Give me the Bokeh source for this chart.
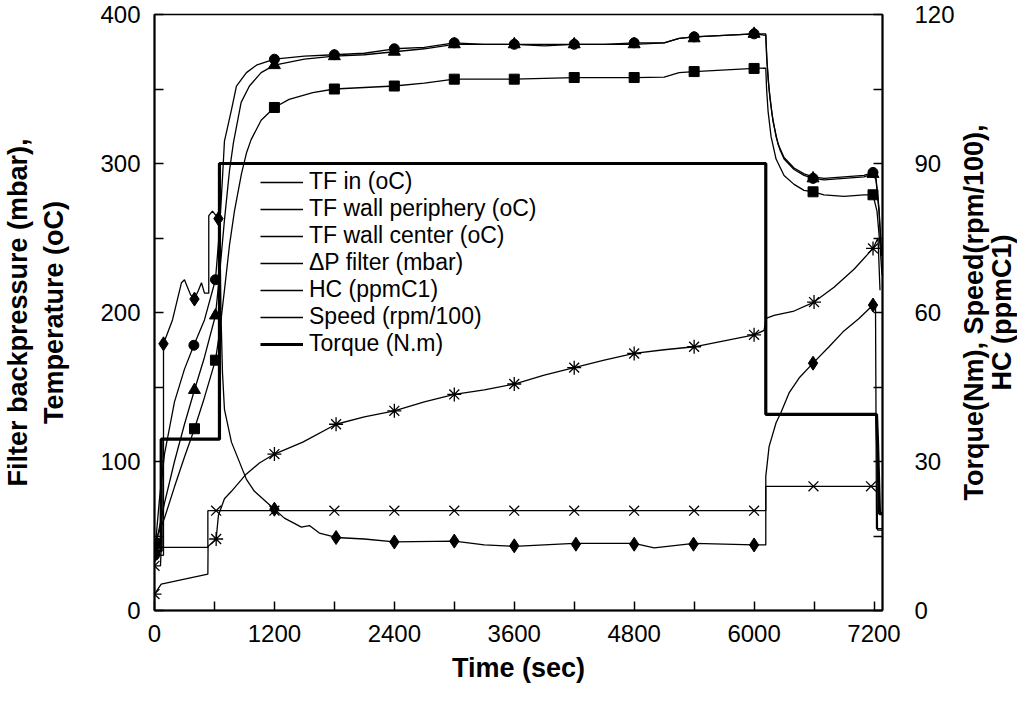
import math
from bokeh.plotting import figure
from bokeh.layouts import row
from bokeh.models import Range1d, LinearAxis, Legend, LegendItem, FixedTicker
from bokeh.core.properties import value
from bokeh.embed import file_html
from bokeh.resources import INLINE

FONT = "Liberation Sans"

# ---------------- data (time in s) ----------------
# TF in (oC)  - circle markers
t_tfin = [0, 50, 100, 200, 300, 394, 500, 610, 650, 680, 700, 770, 820, 920, 1020, 1200, 1500, 1800,
          2100, 2400, 2700, 3000, 3300, 3600, 3900, 4200, 4500, 4800, 5100, 5250, 5400, 5700, 6000,
          6117, 6125, 6140, 6160, 6190, 6240, 6300, 6400, 6500, 6590, 6700, 6900, 7100, 7190, 7220, 7250, 7275]
v_tfin = [37, 75, 105, 140, 162, 178, 195, 222, 255, 290, 315, 336, 352, 361, 366, 370, 372, 373,
          374, 377, 378, 381, 380, 380, 379, 380, 380, 381, 381, 384, 385, 386, 387,
          387, 372, 357, 343, 328, 313, 304, 297, 293, 291, 290, 291, 292, 294, 290, 270, 240]
mt_tfin = [0, 394, 610, 1200, 1800, 2400, 3000, 3600, 4200, 4800, 5400, 6000, 6590, 7190]
mv_tfin = [37, 178, 222, 370, 373, 377, 381, 380, 380, 381, 385, 387, 290, 294]

# TF wall periphery (oC) - triangle markers
t_tfp = [0, 100, 200, 300, 400, 500, 610, 650, 700, 750, 790, 867, 950, 1067, 1200, 1500, 1800, 2100,
         2400, 2700, 3000, 3600, 4200, 4800, 5100, 5250, 5400, 6000, 6117, 6130, 6150, 6180, 6220, 6260,
         6300, 6400, 6500, 6590, 6700, 6900, 7100, 7190, 7220, 7250, 7275]
v_tfp = [40, 72, 100, 125, 148, 170, 198, 225, 262, 295, 314, 341, 352, 361, 366, 370, 372, 373,
         375, 377, 380, 380, 380, 380, 381, 384, 385, 387, 386, 368, 350, 333, 318, 309,
         303, 296, 292, 290, 289, 290, 291, 293, 289, 268, 238]
mt_tfp = [0, 400, 610, 1200, 1800, 2400, 3000, 3600, 4200, 4800, 5400, 6000, 6590, 7190]
mv_tfp = [40, 148, 198, 366, 372, 375, 380, 380, 380, 380, 384, 387, 290, 293]

# TF wall center (oC) - square markers
t_tfc = [0, 100, 200, 300, 400, 500, 610, 650, 700, 750, 800, 870, 920, 967, 1067, 1200, 1347, 1584,
         1800, 2100, 2400, 2700, 3000, 3600, 4200, 4800, 5100, 5250, 5400, 6000, 6117, 6125, 6140, 6170,
         6220, 6300, 6400, 6500, 6590, 6700, 6900, 7100, 7190, 7230, 7260, 7280]
v_tfc = [45, 62, 83, 103, 122, 143, 168, 186, 215, 245, 268, 293, 307, 316, 329, 337.6, 343, 347.6,
         350, 351, 352, 354, 356.6, 356.6, 357.7, 357.7, 358, 361, 361.7, 363.8, 364, 350, 335, 318,
         303, 292, 286, 282, 281, 279, 278, 279, 279, 268, 245, 225]
mt_tfc = [0, 400, 610, 1200, 1800, 2400, 3000, 3600, 4200, 4800, 5400, 6000, 6590, 7190]
mv_tfc = [45, 122, 168, 337.6, 350, 352, 356.6, 356.6, 357.7, 357.7, 361.7, 363.8, 281, 279]

# Delta P filter (mbar) - asterisk markers
t_dp = [0, 67, 534, 536, 617, 640, 700, 770, 917, 1050, 1200, 1484, 1817, 2100, 2400, 2700, 3000, 3300,
        3600, 3900, 4200, 4500, 4800, 5100, 5400, 5700, 6000, 6100, 6120, 6200, 6400, 6600, 6800, 7000,
        7190, 7240, 7260]
v_dp = [11, 17.7, 24.4, 43, 48, 64, 75, 80, 91.5, 99, 105, 113, 125, 130, 134, 140, 145, 148,
        152, 158, 163, 168, 172.5, 175, 177, 181, 185, 188, 196, 198, 201, 207, 217, 229,
        243, 250, 215]
mt_dp = [0, 617, 1200, 1817, 2400, 3000, 3600, 4200, 4800, 5400, 6000, 6600, 7190]
mv_dp = [11, 48, 105, 125, 134, 145, 152, 163, 172.5, 177, 185, 207, 243]

# HC (ppmC1) - diamond markers, right axis
t_hc = [0, 90, 90, 180, 270, 300, 330, 360, 400, 440, 470, 500, 543, 543, 580, 640, 655, 665, 680, 700,
        770, 920, 1000, 1200, 1300, 1470, 1550, 1650, 1817, 2100, 2400, 3000, 3300, 3600, 4200, 4800,
        5000, 5400, 6000, 6117, 6117, 6150, 6220, 6270, 6350, 6450, 6590, 6750, 6890, 7050, 7190, 7215,
        7225, 7280]
v_hc = [11.1, 11.1, 53.7, 58.5, 66.0, 66.6, 65.1, 63.6, 62.7, 64.5, 66.0, 63.9, 63.9, 79.5, 80.4, 78.9,
        75.0, 60.0, 48.0, 40.5, 33.9, 26.4, 24.0, 20.4, 18.6, 16.8, 17.1, 15.6, 14.7, 14.4, 13.8, 13.95,
        13.2, 12.9, 13.5, 13.5, 12.6, 13.5, 13.2, 13.2, 27.0, 33.0, 37.8, 39.9, 43.8, 46.8, 49.8, 53.1,
        56.1, 58.8, 61.5, 61.8, 16.5, 16.5]
mt_hc = [0, 90, 400, 640, 1200, 1817, 2400, 3000, 3600, 4217, 4800, 5394, 6000, 6590, 7190]
mv_hc = [11.1, 53.7, 62.7, 78.9, 20.4, 14.7, 13.8, 13.98, 13.02, 13.35, 13.35, 13.35, 13.2, 49.8, 61.5]

# Speed (rpm/100) - x markers, right axis
t_sp = [0, 60, 67, 534, 534, 6117, 6117, 7230, 7235, 7280]
v_sp = [9, 9, 12.7, 12.7, 20.1, 20.1, 25, 25, 16.2, 16.2]
mt_sp = [0, 617, 1200, 1800, 2400, 3000, 3600, 4200, 4800, 5400, 6000, 6594, 7170]
mv_sp = [9, 20.1, 20.1, 20.1, 20.1, 20.1, 20.1, 20.1, 20.1, 20.1, 20.1, 25, 25]

# Torque (N.m) - thick line, right axis
t_tq = [0, 67, 67, 650, 650, 6117, 6117, 7225, 7235, 7255, 7280]
v_tq = [12, 12, 34.5, 34.5, 90, 90, 39.5, 39.5, 34, 19.5, 19.5]

x_ticks = [0, 1200, 2400, 3600, 4800, 6000, 7200]
x_minor = [600, 1800, 3000, 4200, 5400, 6600]
yl_ticks = [0, 100, 200, 300, 400]
yl_minor = [50, 150, 250, 350]
yr_ticks = [0, 30, 60, 90, 120]
yr_minor = [15, 45, 75, 105]

labels = ["TF in (oC)", "TF wall periphery (oC)", "TF wall center (oC)", "\u0394P filter (mbar)",
          "HC (ppmC1)", "Speed (rpm/100)", "Torque (N.m)"]
right_title = ["Torque(Nm), Speed(rpm/100),", "HC (ppmC1)"]

H = 704
# ---------------- main figure ----------------
p = figure(frame_width=728, frame_height=596,
           min_border_left=151, min_border_right=75, min_border_top=14, min_border_bottom=94,
           x_range=Range1d(0, 7285), y_range=Range1d(0, 400),
           output_backend="svg", toolbar_location=None)
p.extra_y_ranges = {"right": Range1d(0, 120)}
p.add_layout(LinearAxis(y_range_name="right"), "right")
p.grid.visible = False
p.outline_line_color = "black"
p.outline_line_width = 1.5
p.outline_line_alpha = 1.0
p.background_fill_color = "white"
p.border_fill_color = "white"

p.xaxis.ticker = FixedTicker(ticks=x_ticks, minor_ticks=x_minor)
p.yaxis[0].ticker = FixedTicker(ticks=yl_ticks, minor_ticks=yl_minor)
p.yaxis[1].ticker = FixedTicker(ticks=yr_ticks, minor_ticks=yr_minor)

for ax in [p.xaxis[0], p.yaxis[0], p.yaxis[1]]:
    ax.axis_line_color = "black"
    ax.axis_line_width = 2
    ax.major_tick_in = 9
    ax.major_tick_out = 0
    ax.minor_tick_in = 9
    ax.minor_tick_out = 0
    ax.major_tick_line_width = 1.5
    ax.minor_tick_line_width = 1.5
    ax.major_tick_line_color = "black"
    ax.minor_tick_line_color = "black"
    ax.major_label_text_font = FONT
    ax.major_label_text_font_size = "24px"
    ax.major_label_text_color = "black"
    ax.axis_label_text_font = FONT
    ax.axis_label_text_font_size = "27px"
    ax.axis_label_text_font_style = "bold"
    ax.axis_label_text_color = "black"

p.xaxis.axis_label = "Time (sec)"
p.xaxis.major_label_standoff = 14
p.xaxis.axis_label_standoff = 8
p.yaxis[0].axis_label = "Filter backpressure (mbar),\nTemperature (oC)"
p.yaxis[0].major_label_standoff = 14
p.yaxis[0].axis_label_standoff = 28
p.yaxis[1].major_label_standoff = 32

LW = 1.3
r_tfin = p.line(t_tfin, v_tfin, line_color="black", line_width=LW)
p.scatter(mt_tfin, mv_tfin, marker="circle", size=10, color="black")
r_tfp = p.line(t_tfp, v_tfp, line_color="black", line_width=LW)
p.scatter(mt_tfp, mv_tfp, marker="triangle", size=12, color="black")
r_tfc = p.line(t_tfc, v_tfc, line_color="black", line_width=LW)
p.scatter(mt_tfc, mv_tfc, marker="square", size=10, color="black")
r_dp = p.line(t_dp, v_dp, line_color="black", line_width=LW)
p.scatter(mt_dp, mv_dp, marker="asterisk", size=14, line_color="black", line_width=1.3)
r_hc = p.line(t_hc, v_hc, line_color="black", line_width=LW, y_range_name="right")
p.scatter(mt_hc, mv_hc, marker="diamond", size=14, color="black", y_range_name="right")
r_sp = p.line(t_sp, v_sp, line_color="black", line_width=LW, y_range_name="right")
p.scatter(mt_sp, mv_sp, marker="x", size=14, line_color="black", line_width=1.3, y_range_name="right")
r_tq = p.line(t_tq, v_tq, line_color="black", line_width=3.2, y_range_name="right")

rends = [r_tfin, r_tfp, r_tfc, r_dp, r_hc, r_sp, r_tq]
legend = Legend(items=[LegendItem(label=l, renderers=[r]) for l, r in zip(labels, rends)],
                location=(106, 253))
legend.border_line_color = None
legend.background_fill_alpha = 0
legend.padding = 0
legend.margin = 0
legend.spacing = 0
legend.glyph_width = 43
legend.glyph_height = 20
legend.label_height = 20
legend.label_standoff = 6
legend.label_text_font = FONT
legend.label_text_font_size = "23px"
legend.label_text_color = "black"
p.add_layout(legend)

# ---------------- right-hand title strip (text reads bottom-to-top) ----------------
q = figure(width=60, height=H, x_range=Range1d(0, 60), y_range=Range1d(0, H),
           x_axis_type=None, y_axis_type=None, min_border=0,
           output_backend="svg", toolbar_location=None)
q.outline_line_color = None
q.grid.visible = False
q.background_fill_color = "white"
q.border_fill_color = "white"
q.text(x=[16, 44], y=[352, 352], text=right_title, angle=math.pi / 2,
       text_align="center", text_baseline="middle",
       text_font=value(FONT), text_font_size=value("27px"), text_font_style=value("bold"),
       text_color="black")

layout = row(p, q, spacing=0)
open("out.html", "w").write(file_html(layout, INLINE))
